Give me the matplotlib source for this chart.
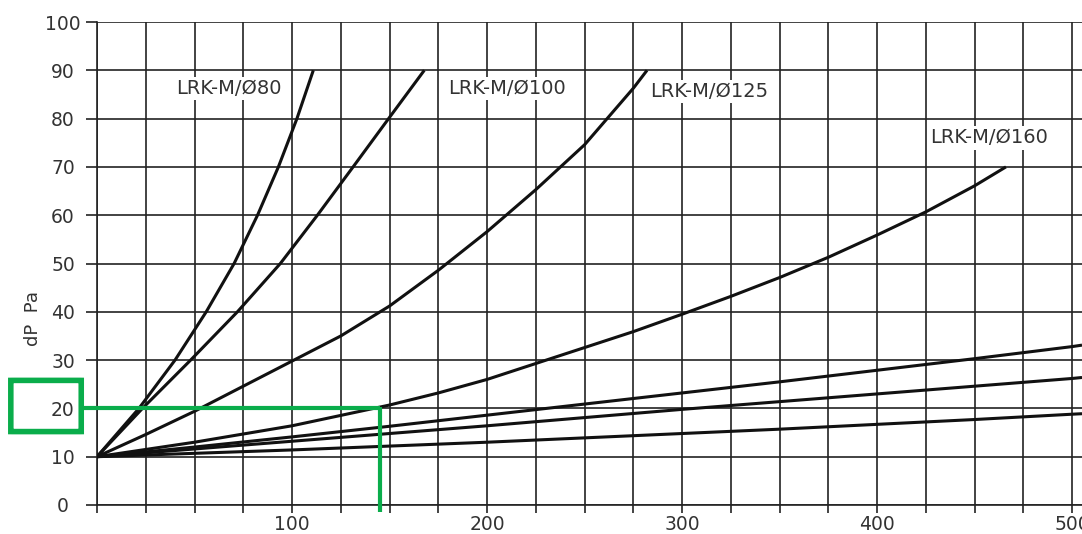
import numpy as np
import matplotlib
matplotlib.use("Agg")
import matplotlib.pyplot as plt
from matplotlib.patches import FancyBboxPatch
import matplotlib.transforms as mtransforms

# Air flow q (x) vs pressure drop dP (y)
Q_80   = [0, 21.5, 40.0, 56.0, 70.3, 82.3, 93.0, 102.5, 110.9]
DP_80  = [10, 20, 30, 40, 50, 60, 70, 80, 90]

Q_100  = [0, 23.3, 48.0, 72.0, 94.0, 113.0, 131.3, 149.5, 167.8]
DP_100 = [10, 20, 30, 40, 50, 60, 70, 80, 90]

Q_125  = [0, 25, 50, 75, 100, 125, 150, 175, 200, 225, 250, 275, 282]
DP_125 = [10, 14.6, 19.4, 24.6, 29.8, 35.0, 41.2, 48.6, 56.6, 65.3, 74.6, 86.3, 90]

Q_160  = [0, 50, 100, 150, 175, 200, 225, 250, 275, 300, 325, 350, 375, 400, 425, 450, 466]
DP_160 = [10, 13.0, 16.4, 20.7, 23.2, 26.0, 29.3, 32.6, 35.9, 39.5, 43.2, 47.1, 51.3, 55.9, 60.7, 66.1, 70]

Q_A  = [0, 50, 100, 150, 200, 250, 300, 350, 400, 450, 500, 505]
DP_A = [10, 12.0, 14.1, 16.3, 18.6, 20.9, 23.2, 25.5, 27.9, 30.3, 32.8, 33.1]

Q_B  = [0, 50, 100, 150, 200, 250, 300, 350, 400, 450, 500, 505]
DP_B = [10, 11.6, 13.2, 14.8, 16.4, 18.1, 19.8, 21.4, 23.0, 24.6, 26.2, 26.4]

Q_C  = [0, 50, 100, 150, 200, 250, 300, 350, 400, 450, 500, 505]
DP_C = [10, 10.7, 11.4, 12.2, 13.0, 13.9, 14.8, 15.7, 16.7, 17.7, 18.8, 18.9]

CURVES = [(Q_80, DP_80), (Q_100, DP_100), (Q_125, DP_125), (Q_160, DP_160),
          (Q_A, DP_A), (Q_B, DP_B), (Q_C, DP_C)]

CURVE_LABELS = ["LRK-M/Ø80", "LRK-M/Ø100", "LRK-M/Ø125", "LRK-M/Ø160"]
LABEL_POS    = [(67.5, 86.3), (210, 86.3), (314, 85.6), (457.5, 76.0)]

X_TICKS  = np.arange(0, 525, 25)
X_LABELS = ["" if t % 100 or t == 0 else str(t) for t in X_TICKS]
Y_TICKS  = np.arange(0, 110, 10)

# reading example marked in green
READ_Q, READ_DP = 145, 20

GREEN = "#0aad4b"
TEXT  = "#333333"

fig = plt.figure(figsize=(10.82, 5.34), dpi=100)
ax = fig.add_axes([97 / 1082, 29 / 534, 985 / 1082, 483 / 534])

ax.set_xlim(0, 505)
ax.set_ylim(0, 100)

ax.set_xticks(X_TICKS)
ax.set_xticklabels(X_LABELS)
ax.set_yticks(Y_TICKS)
ax.tick_params(axis="x", length=5.5, width=1.2, color="#222", pad=2.0,
               labelsize=13.5, labelcolor=TEXT)
ax.tick_params(axis="y", length=8, width=1.2, color="#222", pad=16.5,
               labelsize=13.5, labelcolor=TEXT)
for lab in ax.get_yticklabels():
    lab.set_horizontalalignment("center")

ax.grid(True, color="#222", linewidth=1.2)
ax.set_axisbelow(True)
for s in ["top", "right"]:
    ax.spines[s].set_visible(False)
for s in ["left", "bottom"]:
    ax.spines[s].set_color("#222")
    ax.spines[s].set_linewidth(1.2)

for q, dp in CURVES:
    ax.plot(q, dp, color="#111", linewidth=2.2, solid_joinstyle="round",
            solid_capstyle="butt", zorder=3)

for lab, (x, y) in zip(CURVE_LABELS, LABEL_POS):
    ax.text(x, y, lab, ha="center", va="center", fontsize=14, color=TEXT,
            bbox=dict(facecolor="white", edgecolor="none", pad=1.5), zorder=4)

fig.text(33 / 1082, 1 - 318 / 534, "dP  Pa", rotation=90, ha="center",
         va="center", fontsize=13, color=TEXT)

# green reading guide
trans = mtransforms.blended_transform_factory(ax.transAxes, ax.transData)
box = FancyBboxPatch((-0.0875, 15.2), 0.0715, 10.6,
                     boxstyle="round,pad=0,rounding_size=0.006",
                     transform=trans, fill=False, edgecolor=GREEN,
                     linewidth=4, clip_on=False, zorder=5)
ax.add_patch(box)
ax.plot([-7.8, READ_Q], [READ_DP, READ_DP], color=GREEN, linewidth=3,
        solid_capstyle="butt", clip_on=False, zorder=5)
ax.plot([READ_Q, READ_Q], [READ_DP + 0.3, -1.5], color=GREEN, linewidth=3,
        solid_capstyle="butt", clip_on=False, zorder=5)

fig.savefig("out.png", dpi=100)
